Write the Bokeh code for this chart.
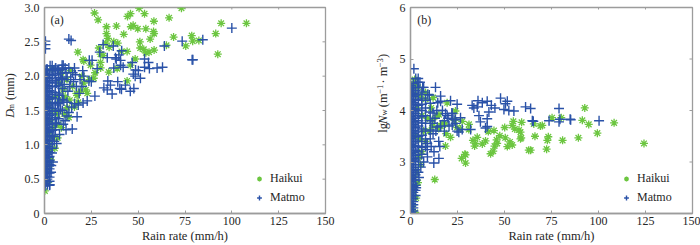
import math
from bokeh.plotting import figure
from bokeh.layouts import row
from bokeh.models import (Range1d, FixedTicker, Label, Legend, LegendItem,
                          CustomJSTickFormatter, ColumnDataSource)
from bokeh.embed import file_html
from bokeh.resources import INLINE

FONT = "Liberation Serif"
GREEN = "#6cc640"
BLUE = "#2a52a8"
AXIS = "#9c9c9c"
TXT = "#262626"

rain_ticks = [0, 25, 50, 75, 100, 125, 150]
dm_ticks = [0, 0.5, 1.0, 1.5, 2.0, 2.5, 3.0]
nw_ticks = [2, 3, 4, 5, 6]
series_names = ["Haikui", "Matmo"]
x_title = "Rain rate (mm/h)"

# ---------------- panel (a): rain rate vs Dm ----------------
haikui_a = [
    (26.7, 2.92), (28.6, 2.82), (33.1, 2.72), (33.1, 2.62), (33.8, 2.55), (38.4, 2.73),
    (42.3, 2.61), (44.3, 2.87), (45.9, 2.91), (46.1, 2.72), (47.3, 2.74), (50.5, 2.99),
    (49.8, 2.69), (53.4, 2.91), (54.1, 2.69), (58.4, 2.80), (58.2, 2.65), (58.5, 2.62),
    (66.5, 2.85), (73.1, 2.99), (68.9, 2.57), (50.9, 2.50), (56.4, 2.54), (53.0, 2.39),
    (54.1, 2.34), (58.5, 2.38), (65.1, 2.45), (75.4, 2.44), (78.6, 2.59), (79.1, 2.51),
    (82.4, 2.52), (91.4, 2.62), (92.5, 2.32), (94.3, 2.77), (107.8, 2.77), (17.8, 2.35),
    (20.6, 2.24), (29.0, 2.41), (29.9, 2.32), (29.9, 2.20), (34.5, 2.42), (37.0, 2.50),
    (39.1, 2.48), (41.1, 2.36), (44.1, 2.36), (45.9, 2.16), (48.4, 2.25), (34.3, 2.06),
    (38.8, 2.11), (44.1, 1.93), (21.0, 1.90), (19.2, 1.78), (17.4, 1.72), (22.8, 1.75),
    (26.3, 1.97), (8.5, 1.64), (12.1, 1.54), (6.8, 1.45), (5.0, 1.26), (4.1, 1.11),
    (3.2, 0.92), (0.2, 0.33), (31.3, 2.30), (24.6, 2.16), (21.0, 2.22), (32.8, 2.48),
    (51.1, 2.41), (55.8, 2.35), (27.0, 2.05), (24.0, 1.95), (30.0, 2.12),
    (10.0, 1.80), (12.0, 1.95), (15.0, 1.85), (17.0, 1.75), (20.0, 2.00), (14.0, 2.08),
    (9.0, 2.05), (4.0, 2.10), (6.0, 1.70), (8.0, 1.90), (11.0, 1.70), (3.0, 1.35),
    (2.5, 1.00), (1.5, 0.60), (2.0, 1.60), (13.0, 1.40), (9.0, 1.25), (7.0, 1.10),
    (5.5, 0.95), (16.0, 1.55), (18.0, 1.62), (22.0, 1.80), (2.2, 1.20), (4.5, 1.50),
    (10.5, 1.45), (13.5, 1.65), (7.5, 1.30), (3.5, 0.78), (1.8, 0.45), (2.6, 0.70),
]

matmo_a_core = {
    0.3: [0.40, 0.44, 0.48, 0.52, 0.56, 0.60, 0.64, 0.68, 0.72, 0.76, 0.80, 0.84, 0.88,
          0.92, 0.96, 1.00, 1.04, 1.08, 1.12, 1.16, 1.20, 1.24, 1.28, 1.32, 1.36, 1.40,
          1.44, 1.48, 1.52, 1.56, 1.60, 1.64, 1.68, 1.72, 1.76, 1.80, 1.84, 1.88, 1.92,
          1.96, 2.00, 2.04, 2.08],
    1.5: [0.42, 0.46, 0.50, 0.54, 0.58, 0.62, 0.66, 0.70, 0.74, 0.78, 0.82, 0.86, 0.90,
          0.94, 0.98, 1.02, 1.06, 1.10, 1.14, 1.18, 1.22, 1.26, 1.30, 1.34, 1.38, 1.42,
          1.46, 1.50, 1.54, 1.58, 1.62, 1.66, 1.70, 1.74, 1.78, 1.82, 1.86, 1.90, 1.94,
          1.98, 2.02, 2.06, 2.10],
    2.7: [0.41, 0.47, 0.53, 0.59, 0.65, 0.71, 0.77, 0.83, 0.89, 0.95, 1.01, 1.07, 1.13,
          1.19, 1.25, 1.31, 1.37, 1.43, 1.49, 1.55, 1.61, 1.67, 1.73, 1.79, 1.85, 1.91,
          1.97, 2.03],
    4.2: [0.95, 1.05, 1.13, 1.21, 1.29, 1.37, 1.45, 1.53, 1.61, 1.69, 1.77, 1.85, 1.93,
          2.01, 2.09],
    5.8: [1.22, 1.31, 1.40, 1.49, 1.58, 1.67, 1.76, 1.85, 1.94, 2.03, 2.11],
    7.6: [1.38, 1.50, 1.62, 1.74, 1.86, 1.98, 2.08],
    9.5: [1.50, 1.66, 1.82, 1.97, 2.10],
}
matmo_a = [
    (11.0, 1.35), (12.5, 1.78), (14.0, 1.95), (15.0, 2.05), (16.0, 1.60), (11.5, 1.22),
    (18.0, 1.58), (13.0, 2.12), (10.0, 2.16), (6.0, 2.12), (3.0, 2.15), (8.0, 1.15),
    (6.5, 1.02), (4.5, 0.75), (3.5, 0.60), (2.8, 0.42), (1.0, 2.10), (7.0, 2.08),
    (0.5, 2.51), (0.5, 2.46), (0.5, 2.40), (13.0, 2.54), (14.2, 2.52), (9.4, 2.16),
    (5.0, 2.09), (8.5, 2.04), (12.1, 1.99), (25.4, 2.23), (29.5, 2.35), (31.3, 2.46),
    (33.5, 2.27), (36.7, 2.44), (39.7, 2.31), (37.9, 2.27), (40.6, 2.23), (37.0, 2.12),
    (40.6, 2.16), (46.8, 2.20), (48.6, 2.09), (51.2, 1.97), (53.4, 2.13), (56.0, 2.11),
    (60.1, 2.12), (63.0, 2.13), (64.0, 2.44), (53.4, 2.25), (73.5, 2.51), (78.8, 2.24),
    (84.5, 2.53), (100.0, 2.70), (33.8, 1.93), (35.2, 1.87), (33.5, 1.80), (40.2, 1.82),
    (36.1, 1.74), (47.7, 1.82), (43.2, 1.87), (39.1, 1.92), (31.7, 1.83), (26.9, 1.71),
    (22.8, 1.64), (20.6, 1.61), (17.4, 1.41), (14.8, 1.23), (13.0, 1.47), (10.3, 1.64),
    (4.1, 2.15), (23.7, 1.93), (28.1, 2.11), (41.2, 2.37), (38.3, 2.25), (42.0, 2.13),
    (50.1, 2.08), (47.4, 2.03), (55.5, 2.20), (79.2, 2.24), (23.9, 2.23), (20.4, 2.08),
    (25.0, 1.92), (45.8, 1.78), (48.4, 2.00), (41.1, 1.81),
    (6.5, 1.90), (8.0, 1.72), (9.0, 1.95), (10.5, 1.88), (11.5, 2.05), (12.0, 1.62),
    (13.5, 1.85), (15.5, 1.92), (16.5, 2.02), (17.0, 1.85), (19.0, 1.95), (18.5, 1.75),
    (12.0, 1.42), (10.0, 1.30), (8.5, 1.52), (6.5, 1.32), (5.0, 1.12), (14.5, 1.55),
    (20.0, 1.85), (21.0, 2.00), (16.0, 2.12), (11.0, 2.12), (7.0, 1.60), (4.0, 0.88),
    (3.6, 0.70), (5.2, 1.05),
]

# ---------------- panel (b): rain rate vs lgNw ----------------
haikui_b = [
    (124.2, 3.36), (108.3, 3.76), (99.4, 3.56), (92.7, 4.05), (91.4, 3.81), (94.8, 3.73),
    (89.3, 3.47), (80.9, 3.42), (80.2, 3.86), (75.3, 3.86), (70.1, 3.71), (73.3, 3.49),
    (72.8, 3.42), (72.4, 3.25), (66.2, 3.50), (63.9, 3.23), (59.1, 3.77), (58.5, 3.58),
    (58.9, 3.47), (57.7, 3.62), (54.7, 3.79), (54.1, 3.71), (52.9, 3.39), (54.1, 3.33),
    (51.5, 3.30), (50.4, 3.47), (50.1, 3.67), (45.8, 3.43), (44.7, 3.31), (42.6, 3.16),
    (44.4, 3.61), (41.4, 3.59), (38.2, 3.35), (35.5, 3.48), (34.1, 3.31), (33.2, 3.42),
    (31.1, 3.73), (29.3, 3.14), (29.3, 2.98), (27.2, 3.07), (26.6, 3.64), (23.4, 3.81),
    (18.6, 3.31), (12.9, 2.66), (5.3, 2.95), (21.3, 3.48), (28.9, 3.15), (34.6, 3.36),
    (39.9, 3.41), (44.0, 3.21), (46.1, 3.36), (47.5, 3.51), (55.5, 3.64), (58.5, 3.45),
    (62.9, 3.23), (65.6, 3.74), (69.1, 3.70), (19.5, 4.15), (23.9, 3.99), (18.6, 3.74),
    (24.8, 3.67), (27.5, 3.79), (31.0, 3.63), (8.0, 4.22), (5.3, 4.28), (15.1, 3.92),
    (11.6, 3.82), (16.0, 3.70),
    (0.5, 2.00), (2.5, 2.02), (1.0, 2.15), (3.0, 2.30), (2.0, 2.45), (4.0, 2.60),
    (3.5, 2.80), (6.0, 3.20), (8.0, 3.40), (10.0, 3.60), (12.0, 3.70), (14.0, 3.90),
    (15.0, 3.65), (17.0, 3.75), (19.0, 3.55), (12.0, 4.25), (8.0, 4.35), (4.0, 4.45),
    (2.0, 4.50), (6.0, 3.90), (9.0, 3.85), (11.0, 4.05), (3.0, 4.30), (7.0, 3.60),
    (5.0, 3.45), (4.5, 3.10), (1.5, 2.70), (2.5, 3.50), (3.5, 4.05), (0.8, 4.40),
    (2.2, 4.60),
]

matmo_b_core = {
    0.3: [2.02, 2.08, 2.14, 2.20, 2.26, 2.32, 2.38, 2.44, 2.50, 2.56, 2.62, 2.68, 2.74,
          2.80, 2.86, 2.92, 2.98, 3.04, 3.10, 3.16, 3.22, 3.28, 3.34, 3.40, 3.46, 3.52,
          3.58, 3.64, 3.70, 3.76, 3.82, 3.88, 3.94, 4.00, 4.06, 4.12, 4.18, 4.24, 4.30,
          4.36, 4.42, 4.48],
    1.5: [2.05, 2.11, 2.17, 2.23, 2.29, 2.35, 2.41, 2.47, 2.53, 2.59, 2.65, 2.71, 2.77,
          2.83, 2.89, 2.95, 3.01, 3.07, 3.13, 3.19, 3.25, 3.31, 3.37, 3.43, 3.49, 3.55,
          3.61, 3.67, 3.73, 3.79, 3.85, 3.91, 3.97, 4.03, 4.09, 4.15, 4.21, 4.27, 4.33,
          4.39, 4.45, 4.52],
    2.7: [2.35, 2.45, 2.55, 2.65, 2.75, 2.85, 2.95, 3.04, 3.13, 3.22, 3.31, 3.40, 3.49,
          3.58, 3.67, 3.76, 3.85, 3.94, 4.03, 4.12, 4.21, 4.30, 4.39],
    4.2: [2.80, 2.95, 3.08, 3.20, 3.30, 3.40, 3.50, 3.60, 3.70, 3.80, 3.90, 4.00, 4.10,
          4.20, 4.32, 4.44],
    6.0: [3.15, 3.28, 3.40, 3.52, 3.64, 3.76, 3.88, 4.00, 4.12, 4.24, 4.36],
    8.0: [3.30, 3.45, 3.60, 3.75, 3.90, 4.05, 4.20],
    10.5: [3.45, 3.62, 3.80, 3.97, 4.14],
}
matmo_b = [
    (12.0, 3.55), (13.0, 3.85), (14.0, 4.00), (16.0, 3.70), (18.0, 3.60), (20.0, 3.85),
    (22.0, 3.95), (24.0, 3.75), (15.0, 3.40), (12.5, 3.20), (9.0, 3.10), (4.5, 2.70),
    (3.0, 2.50), (2.8, 4.62), (7.0, 4.45), (5.0, 4.55),
    (1.8, 4.81), (4.1, 4.62), (13.3, 4.45), (9.2, 4.31), (16.0, 4.18), (21.3, 4.19),
    (35.9, 4.19), (38.2, 4.15), (40.8, 4.18), (43.0, 4.10), (47.9, 4.24), (51.5, 4.18),
    (44.9, 4.05), (55.0, 3.99), (61.2, 4.07), (63.9, 4.04), (65.3, 3.79), (79.0, 4.04),
    (79.5, 3.83), (84.9, 3.83), (100.3, 3.80), (33.7, 4.05), (49.7, 4.02), (36.4, 3.90),
    (40.8, 3.69), (26.6, 3.86), (23.1, 3.83), (19.5, 3.90), (25.7, 3.58), (15.6, 3.30),
    (15.1, 3.07), (12.4, 2.98), (24.8, 4.12), (32.8, 4.10), (35.5, 4.07), (41.7, 3.97),
    (50.5, 4.13), (52.3, 4.00), (40.8, 3.84), (37.2, 3.78), (39.9, 3.66), (32.0, 3.63),
    (27.5, 3.63), (24.8, 3.60), (22.2, 3.72), (23.9, 3.82), (22.2, 3.94), (18.6, 3.94),
    (14.2, 3.68), (8.9, 3.36), (8.9, 3.24), (64.8, 3.80), (73.7, 3.80), (79.0, 3.78),
    (85.2, 3.82), (16.0, 4.28),
    (12.0, 3.95), (13.5, 3.60), (11.0, 3.30), (7.0, 3.00), (5.5, 2.90), (10.0, 4.30),
    (14.5, 4.15), (17.0, 4.00), (18.0, 3.80), (20.5, 3.70), (11.5, 3.75), (6.5, 4.45),
    (3.8, 4.55),
]


def points(core, extra):
    xs, ys = [], []
    if core:
        for rx, vals in core.items():
            for v in vals:
                xs.append(rx)
                ys.append(v)
    for rx, v in extra:
        xs.append(rx)
        ys.append(v)
    return dict(x=xs, y=ys)


def make_fig(width, y_lo, y_hi, yticks, ml, mr, left_fmt=None):
    x_lo, x_hi = rain_ticks[0], rain_ticks[-1]
    p = figure(width=width, height=245, x_range=Range1d(x_lo, x_hi), y_range=Range1d(y_lo, y_hi),
               output_backend="svg", toolbar_location=None,
               min_border_left=ml, min_border_right=mr, min_border_top=7, min_border_bottom=30)
    p.xgrid.visible = False
    p.ygrid.visible = False
    p.outline_line_color = AXIS
    p.outline_line_width = 1.3
    p.background_fill_color = "white"
    p.border_fill_color = "white"
    p.xaxis.ticker = FixedTicker(ticks=rain_ticks)
    p.yaxis.ticker = FixedTicker(ticks=yticks)
    if left_fmt:
        p.yaxis.formatter = CustomJSTickFormatter(code=left_fmt)
    for ax in (p.xaxis[0], p.yaxis[0]):
        ax.axis_line_color = AXIS
        ax.axis_line_width = 1.3
        ax.major_tick_line_color = AXIS
        ax.major_tick_in = 3
        ax.major_tick_out = 0
        ax.minor_tick_line_color = None
        ax.major_label_text_font = FONT
        ax.major_label_text_font_size = "12px"
        ax.major_label_text_color = TXT
    p.xaxis[0].major_label_standoff = 3
    p.yaxis[0].major_label_standoff = 5
    p.xaxis[0].axis_label = x_title
    p.xaxis[0].axis_label_standoff = 1
    p.xaxis[0].axis_label_text_font = FONT
    p.xaxis[0].axis_label_text_font_size = "12.5px"
    p.xaxis[0].axis_label_text_font_style = "normal"
    p.xaxis[0].axis_label_text_color = TXT
    # mirrored inward ticks on the right and top edges of the box
    p.scatter(x=[x_hi] * len(yticks), y=yticks, marker="dash", size=6,
              line_color=AXIS, line_width=1)
    p.scatter(x=rain_ticks, y=[y_hi] * len(rain_ticks), marker="dash", angle=math.pi / 2,
              size=4, line_color=AXIS, line_width=1)
    return p


def add_series(p, hsrc, msrc, loc):
    rh = p.scatter("x", "y", source=ColumnDataSource(hsrc), marker="asterisk", size=8,
                   line_color=GREEN, line_width=1.3)
    rm = p.scatter("x", "y", source=ColumnDataSource(msrc), marker="cross", size=10,
                   line_color=BLUE, line_width=1.4)
    lg = Legend(items=[LegendItem(label=series_names[0], renderers=[rh]),
                       LegendItem(label=series_names[1], renderers=[rm])],
                location=loc, border_line_color=None, background_fill_alpha=0,
                margin=0, padding=0, spacing=2, glyph_width=12, glyph_height=17,
                label_standoff=5, label_text_font=FONT, label_text_font_size="12px",
                label_text_color=TXT)
    p.add_layout(lg)


def title_strip(width):
    s = figure(width=width, height=245, x_range=Range1d(0, width), y_range=Range1d(0, 245),
               x_axis_type=None, y_axis_type=None, output_backend="svg",
               toolbar_location=None, min_border=0)
    s.min_border_left = s.min_border_right = s.min_border_top = s.min_border_bottom = 0
    s.outline_line_color = None
    s.xgrid.visible = False
    s.ygrid.visible = False
    return s


def lab(p, x, y, text, size="12px", style="normal", angle=0.0, align="left"):
    p.add_layout(Label(x=x, y=y, text=text, angle=angle, text_font=FONT, text_font_size=size,
                       text_font_style=style, text_align=align, text_baseline="middle",
                       text_color=TXT))


up = math.pi / 2

# vertical title of panel (a): D_m (mm)
sa = title_strip(20)
lab(sa, 9, 114, "D", style="italic", angle=up)
lab(sa, 11, 122.7, "m", size="8px", angle=up)
lab(sa, 9, 135, "(mm)", angle=up)

# panel (a)
pa = make_fig(352, 0, 3, dm_ticks, 24, 47, "return tick == 0 ? '0' : tick.toFixed(1);")
add_series(pa, points(None, haikui_a), points(matmo_a_core, matmo_a), (209, 7))
lab(pa, 3.2, 2.82, "(a)")

# vertical title of panel (b): lgN_w (m^-1 . m^-3)
sb = title_strip(20)
lab(sb, 10, 96, "lg", size="12.5px", angle=up)
lab(sb, 10, 106.3, "N", size="12.5px", style="italic", angle=up)
lab(sb, 11.8, 116.5, "w", size="8.5px", angle=up)
lab(sb, 10, 126.5, "(m", size="12.5px", angle=up)
lab(sb, 7, 142.5, "\u22121", size="8.5px", angle=up)
lab(sb, 10, 154.5, "\u00b7 m", size="12.5px", angle=up)
lab(sb, 7, 174, "\u22123", size="8.5px", angle=up)
lab(sb, 10, 185, ")", size="12.5px", angle=up)

# panel (b)
pb = make_fig(308, 2, 6, nw_ticks, 18, 8)
add_series(pb, points(None, haikui_b), points(matmo_b_core, matmo_b), (210, 7))
lab(pb, 3.6, 5.763, "(b)")

layout = row(sa, pa, sb, pb)
open("out.html", "w").write(file_html(layout, INLINE))
